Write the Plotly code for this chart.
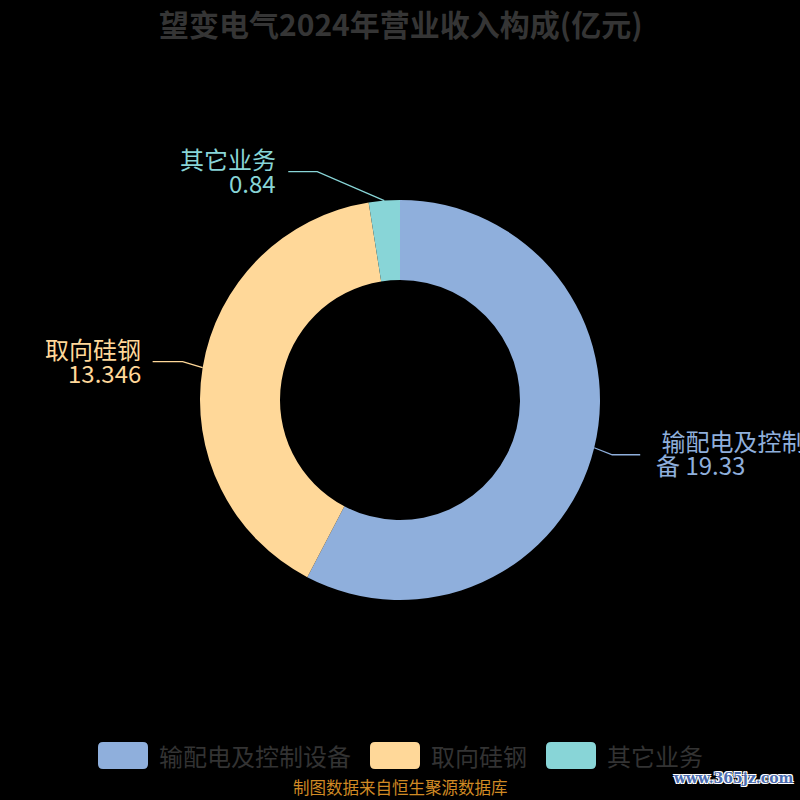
import math
import plotly.graph_objects as go

# ---- data ----
categories = ["输配电及控制设备", "取向硅钢", "其它业务"]
values = [19.33, 13.346, 0.84]
value_labels = ["19.33", "13.346", "0.84"]
colors = ["#8FAFDC", "#FFD899", "#88D5D7"]
title_text = "望变电气2024年营业收入构成(亿元)"
source_text = "制图数据来自恒生聚源数据库"
watermark_text = "www.365jz.com"

W = H = 800
CX, CY, R = 400, 400, 200
FONT = "Noto Sans CJK SC, Microsoft YaHei, sans-serif"


def px(x):
    return x / W


def py(y):
    return 1 - y / H


fig = go.Figure()
fig.add_trace(go.Pie(
    labels=categories, values=values, hole=0.6, sort=False,
    direction="clockwise", rotation=0, textinfo="none",
    marker=dict(colors=colors, line=dict(width=0)),
    domain=dict(x=[0.25, 0.75], y=[0.25, 0.75]),
    showlegend=False, hoverinfo="label+value+percent",
))

# ---- leader lines + outside labels (angles computed from data) ----
label_layout = [
    dict(elbow=(18, 7), hlen=28),
    dict(elbow=(-20, -6), hlen=30),
    dict(elbow=(-67, -29), hlen=29),
]
total = sum(values)
shapes = []
annotations = []
cum = 0.0
for i, v in enumerate(values):
    mid = (cum + v / 2) / total * 2 * math.pi
    cum += v
    ox = CX + R * math.sin(mid)
    oy = CY - R * math.cos(mid)
    lay = label_layout[i]
    ex, ey = ox + lay["elbow"][0], oy + lay["elbow"][1]
    side = 1 if math.sin(mid) > 0 else -1
    hx = ex + side * lay["hlen"]
    path = f"M {px(ox)} {py(oy)} L {px(ex)} {py(ey)} L {px(hx)} {py(ey)}"
    shapes.append(dict(type="path", path=path, xref="paper", yref="paper",
                       line=dict(color=colors[i], width=1.3)))
    if side > 0:
        full = f"{categories[i]} {value_labels[i]}"
        lines = [" " + full[:7], full[7:]]
        tx = hx + 14
        offs = [-14, 10]
        anchor = "left"
    else:
        lines = [categories[i], value_labels[i]]
        tx = hx - 10
        offs = [-13, 11]
        anchor = "right"
    for ln, off in zip(lines, offs):
        annotations.append(dict(
            x=px(tx), y=py(ey + off), xref="paper", yref="paper",
            text=ln, showarrow=False, xanchor=anchor, yanchor="middle",
            font=dict(family=FONT, size=24, color=colors[i])))

# ---- title ----
annotations.append(dict(
    x=0.5, y=py(23), xref="paper", yref="paper", text=f"<b>{title_text}</b>",
    showarrow=False, xanchor="center", yanchor="middle",
    font=dict(family=FONT, size=30, color="#353535")))

# ---- custom legend ----
legend_x = [98, 370, 546]
LY0, LY1, RAD = 742, 769, 5
for i, cat in enumerate(categories):
    x0 = legend_x[i]
    x1 = x0 + 50
    p = (f"M {px(x0+RAD)} {py(LY0)} L {px(x1-RAD)} {py(LY0)} "
         f"Q {px(x1)} {py(LY0)} {px(x1)} {py(LY0+RAD)} "
         f"L {px(x1)} {py(LY1-RAD)} Q {px(x1)} {py(LY1)} {px(x1-RAD)} {py(LY1)} "
         f"L {px(x0+RAD)} {py(LY1)} Q {px(x0)} {py(LY1)} {px(x0)} {py(LY1-RAD)} "
         f"L {px(x0)} {py(LY0+RAD)} Q {px(x0)} {py(LY0)} {px(x0+RAD)} {py(LY0)} Z")
    shapes.append(dict(type="path", path=p, xref="paper", yref="paper",
                       fillcolor=colors[i], line=dict(width=0)))
    annotations.append(dict(
        x=px(x1 + 9), y=py(755), xref="paper", yref="paper", text=cat,
        showarrow=False, xanchor="left", yanchor="middle",
        font=dict(family=FONT, size=24, color="#333333")))

# ---- source + watermark ----
annotations.append(dict(
    x=0.5, y=py(787), xref="paper", yref="paper", text=source_text,
    showarrow=False, xanchor="center", yanchor="middle",
    font=dict(family=FONT, size=16.5, color="#D08A24")))
annotations.append(dict(
    x=px(796), y=py(778), xref="paper", yref="paper", text=f"<b>{watermark_text}</b>",
    showarrow=False, xanchor="right", yanchor="middle",
    font=dict(family="DejaVu Serif, serif", size=14, color="#4A6CB0",
              shadow="-1px -1px 0 #fff, 1px -1px 0 #fff, -1px 1px 0 #fff, 1px 1px 0 #fff")))

fig.update_layout(
    width=W, height=H, margin=dict(l=0, r=0, t=0, b=0),
    paper_bgcolor="#000000", plot_bgcolor="#000000",
    shapes=shapes, annotations=annotations, showlegend=False,
)
fig.write_html(
    "out.html",
    config={"displayModeBar": False},
    post_script="document.body.style.margin='0';document.body.style.overflow='hidden';document.body.style.background='#000';",
)
